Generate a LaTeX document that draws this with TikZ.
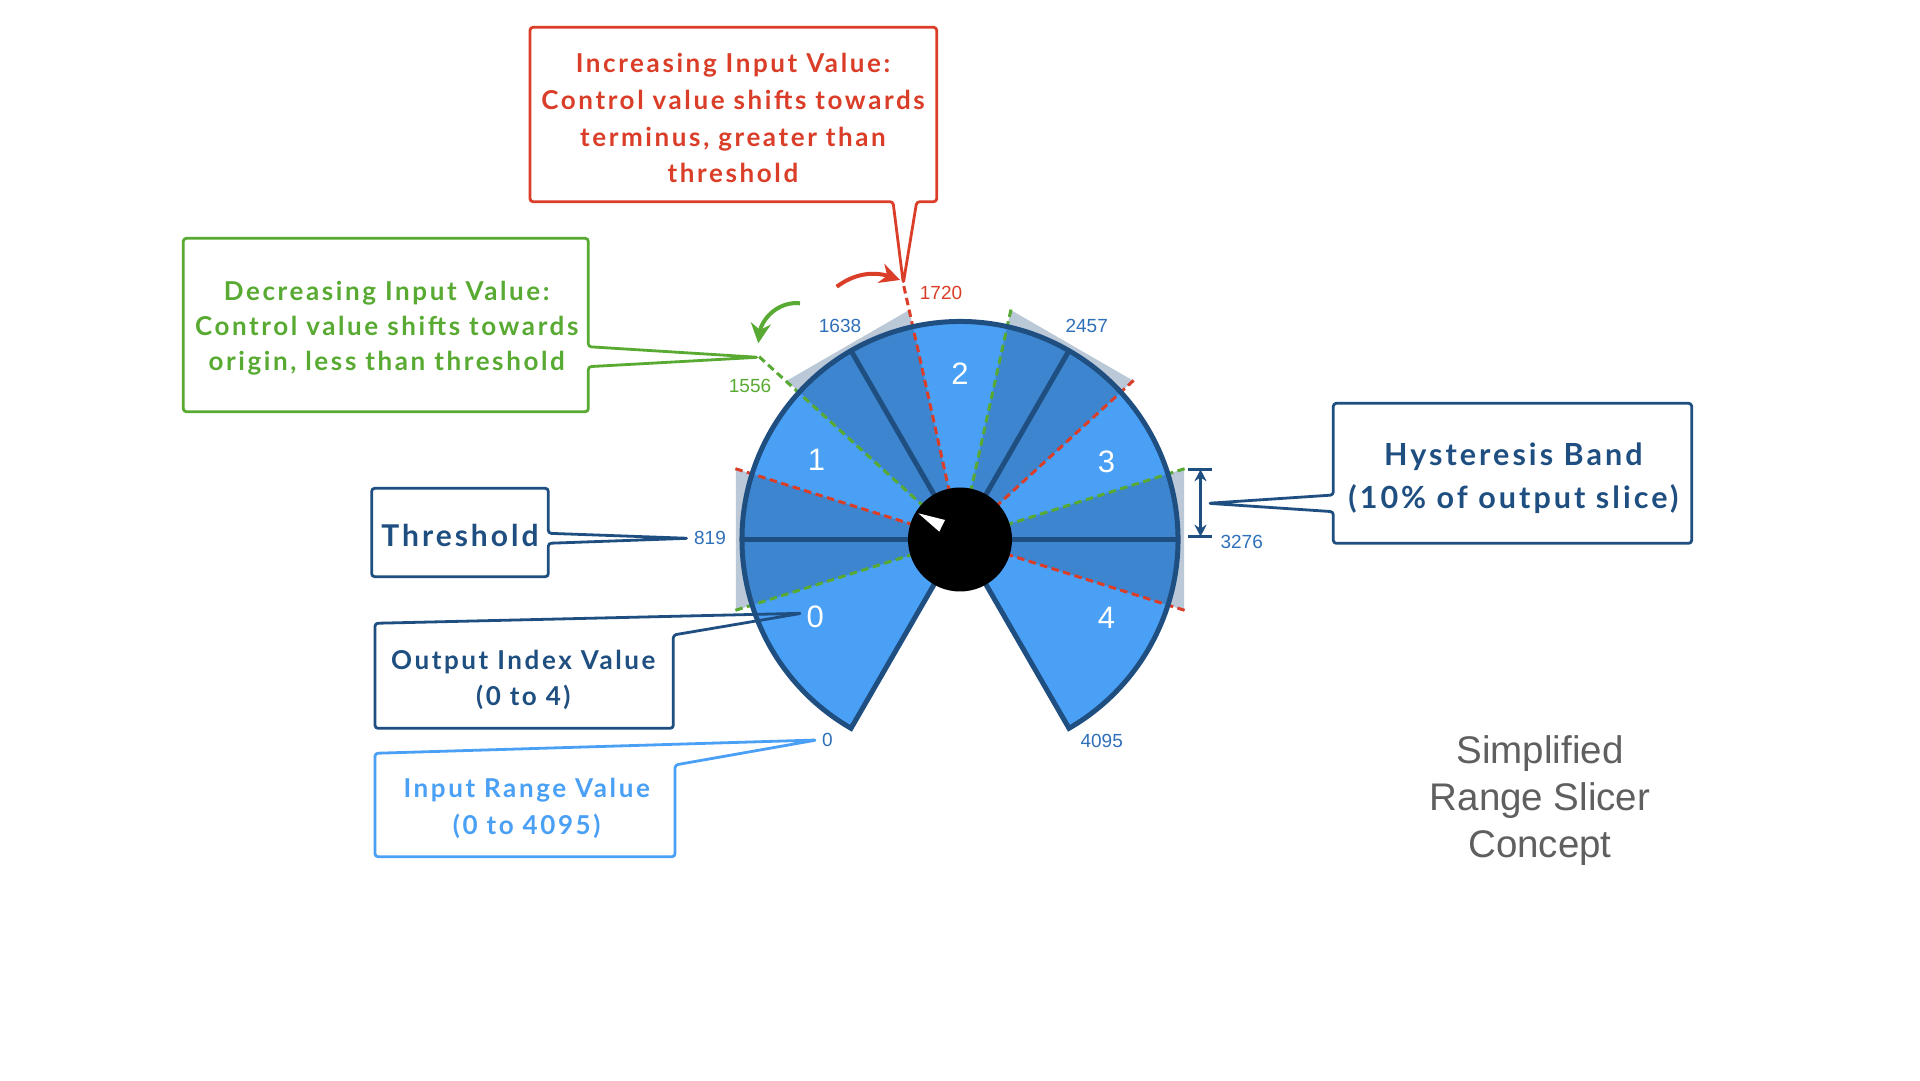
\documentclass[tikz,border=0pt]{standalone}
\usepackage{fontspec}
\setmainfont{Liberation Sans}
\newfontfamily\handfont{Lato}[LetterSpace=10]
\usetikzlibrary{arrows.meta,bending}
\definecolor{navy}{RGB}{31,78,128}
\definecolor{ringlight}{RGB}{74,160,245}
\definecolor{ringdark}{RGB}{61,133,206}
\definecolor{bandgray}{RGB}{187,200,215}
\definecolor{hred}{RGB}{218,62,40}
\definecolor{hgreen}{RGB}{88,170,50}
\definecolor{numblue}{RGB}{46,112,185}
\definecolor{inblue}{RGB}{74,160,245}
\definecolor{titlegray}{RGB}{95,95,95}
\tikzset{
  callout/.style={line width=2.8pt, rounded corners=3pt, line join=round},
  num/.style={font=\fontsize{19}{22}\selectfont, text=numblue, inner sep=0pt},
  slicenum/.style={font=\fontsize{31}{34}\selectfont, text=white, inner sep=0pt},
  handsmall/.style={font=\handfont\bfseries\fontsize{26}{36.7}\selectfont, align=center, inner sep=0pt},
  hystup/.style={hred, line width=3pt, dash pattern=on 7.5pt off 4.5pt},
  hystdown/.style={hgreen, line width=3pt, dash pattern=on 7.5pt off 4.5pt},
  outline/.style={navy, line width=5pt},
}
\begin{document}
\begin{tikzpicture}[x=1pt,y=1pt]
\useasboundingbox (0,0) rectangle (1920,1080);
\fill[white] (0,0) rectangle (1920,1080);

% ---------- dial ----------
\coordinate (C) at (960,540.5);
\begin{scope}[shift={(960,540.5)}]
  \foreach \b in {180,120,60,0}{
    \fill[bandgray] (0,0) -- (\b+17.5:235pt) -- (\b-17.5:235pt) -- cycle;
  }
  \fill[ringlight] (0,0) -- (240:218pt) arc[start angle=240,end angle=-60,radius=218pt] -- cycle;
  \foreach \b in {180,120,60,0}{
    \fill[ringdark] (0,0) -- (\b+17.5:218pt) arc[start angle=\b+17.5,end angle=\b-17.5,radius=218pt] -- cycle;
  }
  \foreach \b in {180,60,0}{
    \draw[hystup] (0,0) -- (\b-17.5:236pt);
    \draw[hystdown] (0,0) -- (\b+17.5:236pt);
  }
  \draw[hystup] (0,0) -- (102.5:262pt);
  \draw[hystdown] (0,0) -- (137.7:272pt);
  \draw[outline, line join=miter] (0,0) -- (240:218pt) arc[start angle=240,end angle=-60,radius=218pt] -- cycle;
  \foreach \b in {180,120,60,0}{
    \draw[outline] (0,0) -- (\b:218pt);
  }
  \fill[black] (0,0) circle[radius=52pt];
  \node[slicenum] (s0) at (208:164pt) {0};
  \node[slicenum] (s1) at (151:164pt) {1};
  \node[slicenum] (s2) at (90:166pt) {2};
  \node[slicenum] (s3) at (28:166pt) {3};
  \node[slicenum] (s4) at (-28:166pt) {4};
\end{scope}
\fill[white] (918.3,566.7) -- (945,560) -- (939.3,548.3) -- cycle;

% ---------- value labels ----------
\node[num] (n1638) at (840,754.3) {1638};
\node[num] (n2457) at (1086.7,754.3) {2457};
\node[num, text=hred] (n1720) at (941,786.7) {1720};
\node[num, text=hgreen] (n1556) at (750,694) {1556};
\node[num] (n819) at (710,541.7) {819};
\node[num] (n3276) at (1241.7,538.3) {3276};
\node[num] (n0) at (827.3,340) {0};
\node[num] (n4095) at (1101.7,339) {4095};

% ---------- direction arrows ----------
\coordinate (gA) at (800,776.7);
\coordinate (gB) at (758.3,736.7);
\draw[hgreen, line width=4pt, -{Stealth[length=20pt,width=20pt,flex]}] (gA) to[bend right=50] (gB);
\coordinate (rA) at (836.7,793.3);
\coordinate (rB) at (900,800);
\draw[hred, line width=4pt, -{Stealth[length=20pt,width=20pt,flex]}] (rA) to[bend left=30] (rB);

% ---------- hysteresis band marker ----------
\coordinate (hysTop) at (1200.5,610.7);
\coordinate (hysBot) at (1200.5,543.3);
\draw[navy, line width=2.5pt] (1188,610.7) -- (1212,610.7);
\draw[navy, line width=2.5pt] (1188,543.3) -- (1212,543.3);
\draw[navy, line width=2.5pt, {Stealth[length=12pt,width=12pt]}-{Stealth[length=12pt,width=12pt]}] (hysBot) -- (hysTop);

% ---------- callouts ----------
\coordinate (tipRed) at (903.3,796.7);
\draw[callout, hred] (530,1052.7) -- (936.7,1052.7) -- (936.7,878.3) -- (916.7,878.3) -- (tipRed) -- (893,878.3) -- (530,878.3) -- cycle;
\node[handsmall, text=hred] (redtext) at (733,961.7) {Increasing Input Value:\\Control value shifts towards\\terminus, greater than\\threshold};

\coordinate (tipGreen) at (758.3,722.7);
\draw[callout, hgreen] (183.3,841.7) -- (588.3,841.7) -- (588.3,733.3) -- (tipGreen) -- (588.3,713.3) -- (588.3,668.3) -- (183.3,668.3) -- cycle;
\node[handsmall, text=hgreen, font=\handfont\bfseries\fontsize{26}{35}\selectfont] (greentext) at (386.7,751.7) {Decreasing Input Value:\\Control value shifts towards\\origin, less than threshold};

\coordinate (tipThr) at (688.3,541.7);
\draw[callout, navy] (371.7,591.7) -- (548.3,591.7) -- (548.3,546.7) -- (tipThr) -- (548.3,536.7) -- (548.3,503.3) -- (371.7,503.3) -- cycle;
\node[handsmall, text=navy, font=\handfont\bfseries\fontsize{30}{38}\selectfont] (thrtext) at (460,545) {Threshold};

\coordinate (tipOut) at (801.7,466.7);
\draw[callout, navy] (375,456.7) -- (tipOut) -- (673.3,445) -- (673.3,351.7) -- (375,351.7) -- cycle;
\node[handsmall, text=navy] (outtext) at (523.3,400) {Output Index Value\\(0 to 4)};

\coordinate (tipIn) at (816.7,340);
\draw[callout, inblue] (375,326.7) -- (tipIn) -- (675,315) -- (675,223.3) -- (375,223.3) -- cycle;
\node[handsmall, text=inblue] (intext) at (526.7,271.7) {Input Range Value\\(0 to 4095)};

\coordinate (tipHys) at (1208.3,576.7);
\draw[callout, navy] (1333.3,676.7) -- (1691.7,676.7) -- (1691.7,536.7) -- (1333.3,536.7) -- (1333.3,568.3) -- (tipHys) -- (1333.3,585) -- cycle;
\node[handsmall, text=navy, font=\handfont\bfseries\fontsize{30.5}{43.3}\selectfont] (hystext) at (1513.3,601.7) {Hysteresis Band\\(10\% of output slice)};

% ---------- title ----------
\node[font=\fontsize{38.5}{47}\selectfont, text=titlegray, align=center, inner sep=0pt] (title) at (1540,279) {Simplified\\Range Slicer\\Concept};
\end{tikzpicture}
\end{document}
